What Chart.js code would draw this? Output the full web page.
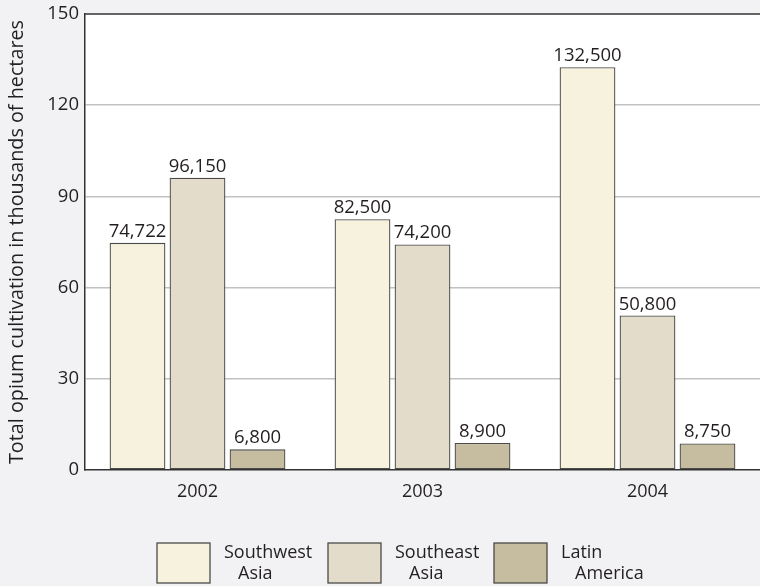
<!DOCTYPE html>
<html>
<head>
<meta charset="utf-8">
<script src="https://cdn.jsdelivr.net/npm/chart.js@4.4.1/dist/chart.umd.min.js"></script>
<style>
  html, body { margin: 0; padding: 0; background: #f2f2f4; }
  #wrap { width: 760px; height: 586px; position: relative; }
</style>
</head>
<body>
<div id="wrap"><canvas id="myChart"></canvas></div>
<script>
// values (thousands of hectares)
const years = ['2002', '2003', '2004'];
const southwestAsia = [74.722, 82.5, 132.5];
const southeastAsia = [96.15, 74.2, 50.8];
const latinAmerica = [6.8, 8.9, 8.75];
const seriesNames = [['Southwest', 'Asia'], ['Southeast', 'Asia'], ['Latin', 'America']];
const yTicks = [0, 30, 60, 90, 120, 150];

const FONT = "'Open Sans', 'Noto Sans', sans-serif";
const INK = '#231f20';
const fills = ['#f7f2dd', '#e3dccb', '#c6bc9f'];
const edge = '#4a4a48';

// white plot area on the grey page
const plotBg = {
    id: 'plotBg',
    beforeDraw(chart) {
        const a = chart.chartArea;
        chart.ctx.save();
        chart.ctx.fillStyle = '#ffffff';
        chart.ctx.fillRect(a.left, a.top, a.right - a.left, a.bottom - a.top);
        chart.ctx.restore();
    }
};

// numbers on top of bars, like 74,722
const barLabels = {
    id: 'barLabels',
    afterDatasetsDraw(chart) {
        const ctx = chart.ctx;
        ctx.save();
        ctx.font = '18.5px ' + FONT;
        ctx.fillStyle = INK;
        ctx.textAlign = 'center';
        ctx.textBaseline = 'alphabetic';
        chart.data.datasets.forEach((ds, i) => {
            chart.getDatasetMeta(i).data.forEach((bar, j) => {
                const txt = Math.round(ds.data[j] * 1000).toLocaleString('en-US');
                ctx.fillText(txt, bar.x, bar.y - 6);
            });
        });
        ctx.restore();
    }
};

// top border + legend at the bottom
const frameAndLegend = {
    id: 'frameAndLegend',
    afterDraw(chart) {
        const ctx = chart.ctx;
        const a = chart.chartArea;
        ctx.save();
        ctx.strokeStyle = '#333';
        ctx.lineWidth = 1.5;
        ctx.beginPath();
        ctx.moveTo(a.left, a.top);
        ctx.lineTo(a.right, a.top);
        ctx.stroke();

        const boxX = [157, 328, 494];
        ctx.font = '18px ' + FONT;
        ctx.textBaseline = 'middle';
        ctx.textAlign = 'left';
        seriesNames.forEach((lines, i) => {
            ctx.fillStyle = fills[i];
            ctx.fillRect(boxX[i], 543, 53, 40);
            ctx.strokeStyle = edge;
            ctx.lineWidth = 1.3;
            ctx.strokeRect(boxX[i], 543, 53, 40);
            ctx.fillStyle = INK;
            ctx.fillText(lines[0], boxX[i] + 67, 553);
            ctx.fillText(lines[1], boxX[i] + 81, 574);
        });
        ctx.restore();
    }
};

new Chart(document.getElementById('myChart'), {
    type: 'bar',
    data: {
        labels: years,
        datasets: [southwestAsia, southeastAsia, latinAmerica].map((d, i) => ({
            label: seriesNames[i].join(' '),
            data: d,
            backgroundColor: fills[i],
            borderColor: edge,
            borderWidth: 1.3,
            borderSkipped: false,
            categoryPercentage: 0.8,
            barPercentage: 0.93,
        })),
    },
    options: {
        responsive: true,
        maintainAspectRatio: false,
        animation: false,
        layout: { padding: { top: 14, right: 0, bottom: 0, left: 0 } },
        plugins: { legend: { display: false }, tooltip: { enabled: false } },
        scales: {
            x: {
                afterFit: (s) => { s.height = 116; },
                grid: { display: false, drawTicks: false },
                border: { color: '#333', width: 1.5 },
                ticks: { color: INK, font: { family: FONT, size: 18 }, padding: 11 },
            },
            y: {
                min: 0,
                max: 150,
                afterFit: (s) => { s.width = 85; s.paddingTop = 0; s.paddingBottom = 0; },
                afterBuildTicks: (s) => { s.ticks = yTicks.map(v => ({ value: v })); },
                grid: {
                    drawTicks: false,
                    color: (c) => (c.tick && (c.tick.value === 150 || c.tick.value === 0)) ? 'rgba(0,0,0,0)' : '#c2c2c2',
                    lineWidth: 1.5,
                },
                border: { color: '#333', width: 1.5 },
                ticks: { color: INK, font: { family: FONT, size: 18.5 }, padding: 6 },
                title: {
                    display: true,
                    text: 'Total opium cultivation in thousands of hectares',
                    color: INK,
                    font: { family: FONT, size: 19.8 },
                    padding: { top: 5, bottom: 0 },
                },
            },
        },
    },
    plugins: [plotBg, barLabels, frameAndLegend],
});
</script>
</body>
</html>
